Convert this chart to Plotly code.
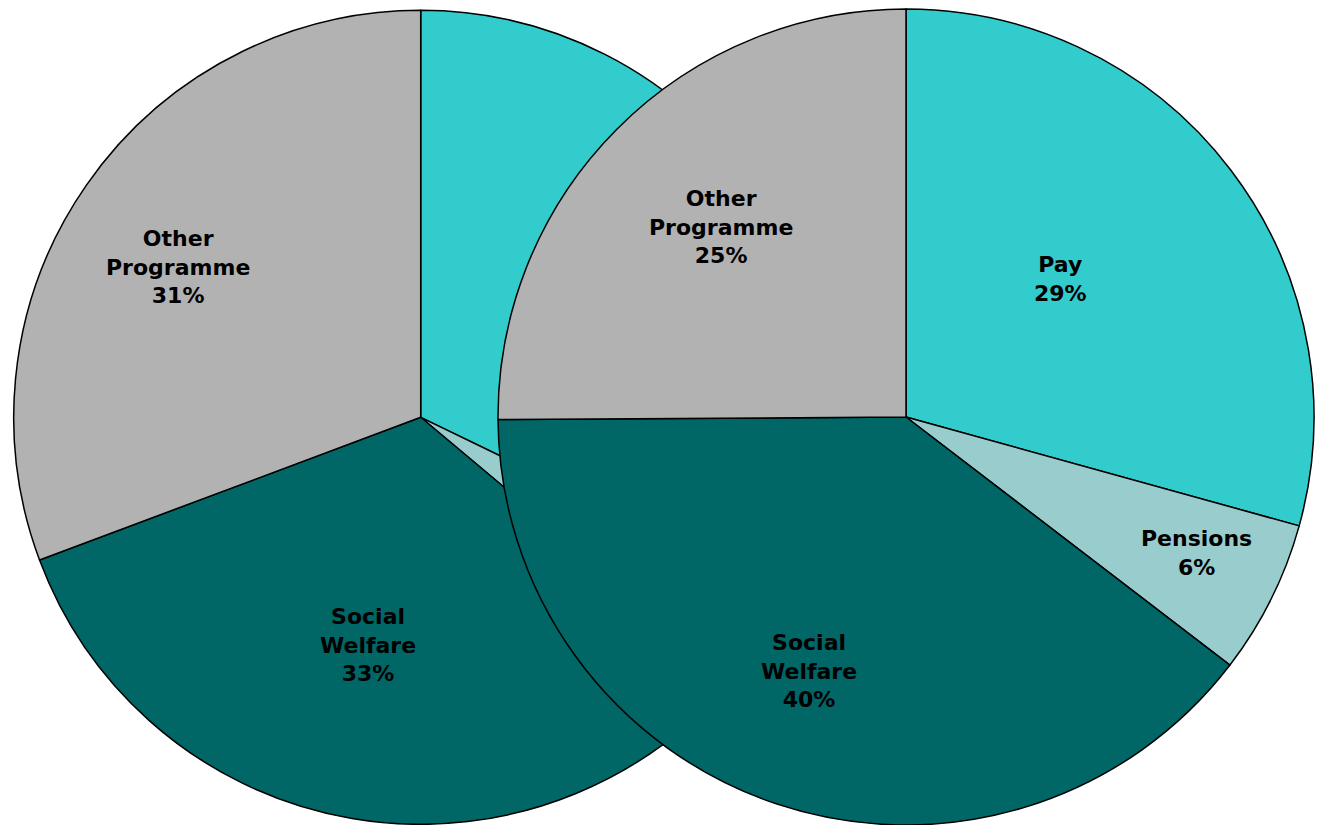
import plotly.graph_objects as go

categories = ["Pay", "Pensions", "Social Welfare", "Other Programme"]
label_text = ["Pay", "Pensions", "Social<br>Welfare", "Other<br>Programme"]
left_values = [32.2, 3.9, 33.2, 30.7]
right_values = [29.3, 6.1, 39.5, 25.1]
colors = ["#33CCCC", "#99CCCC", "#006666", "#B2B2B2"]

# label centres in pixels (None = label hidden behind the other pie)
left_label_pos = [None, None, (368, 645), (178, 267)]
right_label_pos = [(1060, 279), (1196, 553), (809, 671), (721, 227)]

W, H = 1322, 825
FONT = dict(family="DejaVu Sans", size=22, color="#000000", weight="bold")


def dom(cx, cy, r):
    return dict(x=[(cx - r) / W, (cx + r) / W], y=[(H - cy - r) / H, (H - cy + r) / H])


common = dict(
    labels=categories,
    sort=False,
    direction="clockwise",
    rotation=0,
    marker=dict(colors=colors, line=dict(color="#000000", width=1.5)),
    textinfo="none",
    hoverinfo="skip",
    showlegend=False,
)

fig = go.Figure()
fig.add_trace(go.Pie(values=left_values, domain=dom(420.7, 417.3, 407), **common))
fig.add_trace(go.Pie(values=right_values, domain=dom(906, 417, 408), **common))

annotations = []
for values, positions in ((left_values, left_label_pos), (right_values, right_label_pos)):
    total = sum(values)
    for lab, v, pos in zip(label_text, values, positions):
        if pos is None:
            continue
        pct = round(100 * v / total)
        annotations.append(dict(
            text=f"{lab}<br>{pct}%",
            x=pos[0] / W, y=1 - pos[1] / H,
            xref="paper", yref="paper",
            xanchor="center", yanchor="middle",
            showarrow=False, align="center",
            font=FONT,
        ))

fig.update_layout(
    width=W, height=H,
    margin=dict(l=0, r=0, t=0, b=0),
    paper_bgcolor="#FFFFFF",
    plot_bgcolor="#FFFFFF",
    annotations=annotations,
)

fig.write_html("out.html", config={"displayModeBar": False})
